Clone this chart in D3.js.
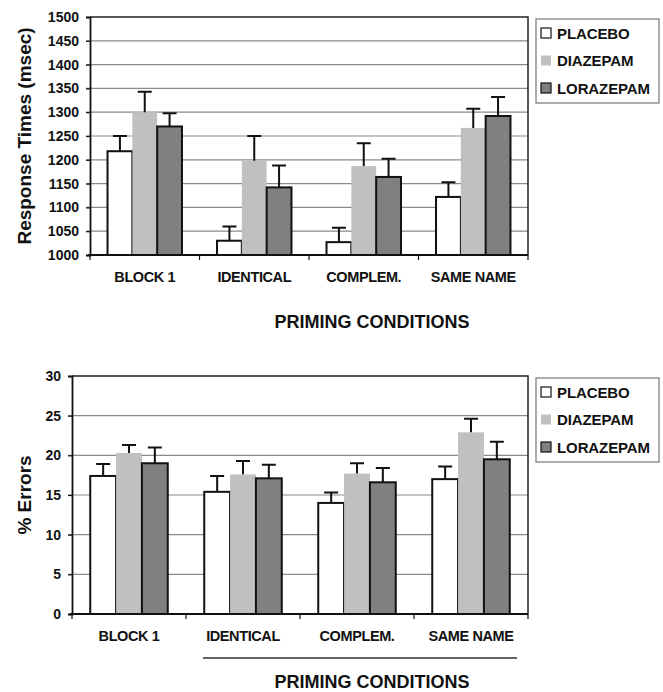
<!DOCTYPE html>
<html>
<head>
<meta charset="utf-8">
<script src="https://cdn.jsdelivr.net/npm/d3@7"></script>
<style>
  body { margin: 0; background: #fff; }
  svg text { font-family: "Liberation Sans", Arial, sans-serif; font-weight: bold; fill: #111; }
</style>
</head>
<body>
<svg id="chart" width="663" height="692"></svg>
<script>
// categories and series
var categories = ["BLOCK 1", "IDENTICAL", "COMPLEM.", "SAME NAME"];
var series = ["PLACEBO", "DIAZEPAM", "LORAZEPAM"];

// response times (msec), means and SE
var rtPlacebo   = [1218, 1030, 1027, 1122];
var rtDiazepam  = [1300, 1198, 1187, 1267];
var rtLorazepam = [1270, 1142, 1164, 1292];
var rtPlaceboErr   = [32, 30, 30, 31];
var rtDiazepamErr  = [43, 52, 48, 40];
var rtLorazepamErr = [28, 46, 38, 40];
var rtTicks = [1000, 1050, 1100, 1150, 1200, 1250, 1300, 1350, 1400, 1450, 1500];

// % errors, means and SE
var erPlacebo   = [17.4, 15.4, 14.0, 17.0];
var erDiazepam  = [20.3, 17.6, 17.7, 22.9];
var erLorazepam = [19.0, 17.1, 16.6, 19.5];
var erPlaceboErr   = [1.5, 2.0, 1.3, 1.6];
var erDiazepamErr  = [1.0, 1.7, 1.3, 1.7];
var erLorazepamErr = [2.0, 1.7, 1.8, 2.2];
var erTicks = [0, 5, 10, 15, 20, 25, 30];

var fills = { "PLACEBO": "#ffffff", "DIAZEPAM": "#c0c0c0", "LORAZEPAM": "#808080" };
var strokes = { "PLACEBO": "#111", "DIAZEPAM": "none", "LORAZEPAM": "#111" };

var svg = d3.select("#chart");

function drawChart(opt) {
  var g = svg.append("g");
  var dim = opt.dim;

  var xScale = d3.scaleBand()
                 .domain(categories)
                 .range([dim.left, dim.right]);
  var bw = xScale.bandwidth();
  var xInner = d3.scaleBand()
                 .domain(series)
                 .range([bw * 0.16, bw * 0.84]);
  var yScale = d3.scaleLinear()
                 .domain([opt.ticks[0], opt.ticks[opt.ticks.length - 1]])
                 .range([dim.bottom, dim.top]);

  // gridlines
  g.selectAll(".grid")
   .data(opt.ticks.slice(1, -1))
   .enter().append("line")
   .attr("x1", dim.left - 4)
   .attr("x2", dim.right)
   .attr("y1", function(d) { return yScale(d); })
   .attr("y2", function(d) { return yScale(d); })
   .style("stroke", "#8a8a8a")
   .style("stroke-width", 1.2);

  // frame top + right
  g.append("path")
   .attr("d", "M" + dim.left + "," + yScale(opt.ticks[opt.ticks.length - 1]) +
              "H" + dim.right + "V" + dim.bottom)
   .style("fill", "none")
   .style("stroke", "#222")
   .style("stroke-width", 1.5);

  // y axis
  var yAxis = d3.axisLeft(yScale)
                .tickValues(opt.ticks)
                .tickFormat(d3.format("d"))
                .tickSize(4)
                .tickPadding(7);
  var ya = g.append("g")
            .attr("transform", "translate(" + dim.left + ",0)")
            .call(yAxis);
  ya.select(".domain").style("stroke", "#111").style("stroke-width", 1.8);
  ya.selectAll(".tick line").style("stroke", "#111").style("stroke-width", 1.2);
  ya.selectAll("text")
    .style("font-size", "14px")
    .style("fill", "#111");

  // bars
  var groups = g.selectAll(".cat")
                .data(categories)
                .enter().append("g")
                .attr("transform", function(d) { return "translate(" + xScale(d) + ",0)"; });

  groups.selectAll("rect")
        .data(function(d, i) {
          return series.map(function(s) {
            return { s: s, v: opt.values[s][i], e: opt.errs[s][i] };
          });
        })
        .enter().append("rect")
        .attr("x", function(d) { return xInner(d.s); })
        .attr("width", xInner.bandwidth())
        .attr("y", function(d) { return yScale(d.v); })
        .attr("height", function(d) { return dim.bottom - yScale(d.v); })
        .style("fill", function(d) { return fills[d.s]; })
        .style("stroke", function(d) { return strokes[d.s]; })
        .style("stroke-width", 2);

  // error bars, upward only
  groups.selectAll(".err")
        .data(function(d, i) {
          return series.map(function(s) {
            return { s: s, v: opt.values[s][i], e: opt.errs[s][i] };
          });
        })
        .enter().append("path")
        .attr("d", function(d) {
          var cx = xInner(d.s) + xInner.bandwidth() / 2;
          var y0 = yScale(d.v), y1 = yScale(d.v + d.e);
          return "M" + cx + "," + y0 + "V" + y1 + "M" + (cx - 7) + "," + y1 + "H" + (cx + 7);
        })
        .style("fill", "none")
        .style("stroke", "#111")
        .style("stroke-width", 2);

  // x axis with ticks at category boundaries
  g.append("line")
   .attr("x1", dim.left - 2)
   .attr("x2", dim.right)
   .attr("y1", dim.bottom)
   .attr("y2", dim.bottom)
   .style("stroke", "#111")
   .style("stroke-width", 1.8);
  var bounds = categories.map(function(c) { return xScale(c); }).concat([dim.right]);
  g.selectAll(".xtick")
   .data(bounds)
   .enter().append("line")
   .attr("x1", function(d) { return d; })
   .attr("x2", function(d) { return d; })
   .attr("y1", dim.bottom)
   .attr("y2", dim.bottom + 5)
   .style("stroke", "#111")
   .style("stroke-width", 1.2);

  g.selectAll(".xlab")
   .data(categories)
   .enter().append("text")
   .attr("x", function(d) { return xScale(d) + bw / 2; })
   .attr("y", dim.bottom + 27)
   .attr("text-anchor", "middle")
   .style("font-size", "14.5px")
   .style("letter-spacing", "-0.4px")
   .text(function(d) { return d; });

  // y title
  g.append("text")
   .attr("transform", "translate(" + opt.titleX + "," + ((dim.top + dim.bottom) / 2) + ") rotate(-90)")
   .attr("text-anchor", "middle")
   .style("font-size", "19px")
   .text(opt.yTitle);

  // x title
  g.append("text")
   .attr("x", 372)
   .attr("y", opt.xTitleY)
   .attr("text-anchor", "middle")
   .style("font-size", "18px")
   .text("PRIMING CONDITIONS");

  if (opt.underline) {
    g.append("line")
     .attr("x1", 203).attr("x2", 517)
     .attr("y1", opt.underline).attr("y2", opt.underline)
     .style("stroke", "#333")
     .style("stroke-width", 1.5);
  }

  // legend
  var leg = g.append("g")
             .attr("transform", "translate(536," + opt.legendY + ")");
  leg.append("rect")
     .attr("x", 0).attr("y", 0)
     .attr("width", 123).attr("height", 84)
     .style("fill", "#fff")
     .style("stroke", "#777")
     .style("stroke-width", 1.2);
  var items = leg.selectAll(".item")
                 .data(series)
                 .enter().append("g")
                 .attr("transform", function(d, i) { return "translate(0," + (14 + i * 27.5) + ")"; });
  items.append("rect")
       .attr("x", 5).attr("y", -5)
       .attr("width", 10).attr("height", 10)
       .style("fill", function(d) { return fills[d]; })
       .style("stroke", function(d) { return strokes[d] == "none" ? "none" : "#111"; })
       .style("stroke-width", 1.2);
  items.append("text")
       .attr("x", 21)
       .attr("y", 5.5)
       .style("font-size", "15px")
       .style("letter-spacing", "-0.1px")
       .text(function(d) { return d; });
}

drawChart({
  dim: { left: 90, right: 528, top: 17, bottom: 255 },
  ticks: rtTicks,
  values: { "PLACEBO": rtPlacebo, "DIAZEPAM": rtDiazepam, "LORAZEPAM": rtLorazepam },
  errs: { "PLACEBO": rtPlaceboErr, "DIAZEPAM": rtDiazepamErr, "LORAZEPAM": rtLorazepamErr },
  yTitle: "Response Times (msec)",
  titleX: 31,
  xTitleY: 328,
  legendY: 19
});

drawChart({
  dim: { left: 72, right: 528, top: 376, bottom: 614 },
  ticks: erTicks,
  values: { "PLACEBO": erPlacebo, "DIAZEPAM": erDiazepam, "LORAZEPAM": erLorazepam },
  errs: { "PLACEBO": erPlaceboErr, "DIAZEPAM": erDiazepamErr, "LORAZEPAM": erLorazepamErr },
  yTitle: "% Errors",
  titleX: 31,
  xTitleY: 688,
  underline: 658,
  legendY: 378
});
</script>
</body>
</html>
